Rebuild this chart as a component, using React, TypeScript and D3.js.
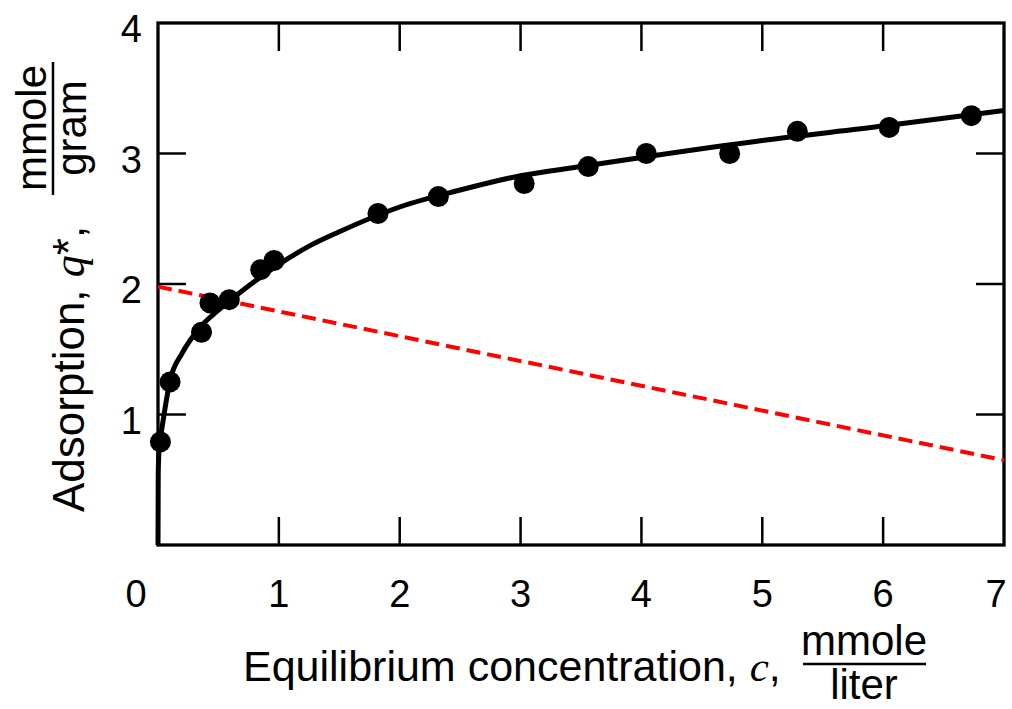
import React from 'react';
import * as d3 from 'd3';

// measured data points (c in mmole/liter, q* in mmole/gram)
const pointC = [0.02, 0.1, 0.36, 0.43, 0.59, 0.85, 0.96, 1.82, 2.32, 3.03, 3.56, 4.04, 4.73, 5.29, 6.05, 6.73];
const pointQ = [0.79, 1.25, 1.63, 1.855, 1.88, 2.11, 2.18, 2.54, 2.67, 2.77, 2.9, 3.0, 3.0, 3.17, 3.2, 3.29];

// isotherm curve
const curveC = [0, 0.002, 0.01, 0.03, 0.05, 0.1, 0.2, 0.35, 0.5, 0.7, 1, 1.25, 1.5, 2, 2.5, 3, 3.5, 4, 5, 6, 7];
const curveQ = [0, 0.55, 0.75, 0.88, 1.0, 1.26, 1.47, 1.67, 1.8, 1.95, 2.15, 2.29, 2.4, 2.59, 2.72, 2.83, 2.9, 2.97, 3.1, 3.21, 3.33];

// red dashed line
const lineC = [0, 7];
const lineQ = [1.98, 0.65];

const xTicks = [0, 1, 2, 3, 4, 5, 6, 7];
const yTicks = [1, 2, 3, 4];

const W = 1012;
const H = 709;
const font = '"Liberation Sans", Arial, sans-serif';
const serif = '"Liberation Serif", "Times New Roman", serif';

export default function App() {
  const x = d3.scaleLinear().domain([0, 7]).range([158, 1004]);
  const y = d3.scaleLinear().domain([0, 4]).range([545, 23]);
  const [x0, x1] = x.range();
  const [y0, y1] = y.range();
  const tick = 28;

  const line = d3.line<[number, number]>()
    .x(d => x(d[0]))
    .y(d => y(d[1]));
  const curvePath = line.curve(d3.curveMonotoneX)(curveC.map((c, i) => [c, curveQ[i]]));
  const redPath = d3.line<[number, number]>().x(d => x(d[0])).y(d => y(d[1]))(lineC.map((c, i) => [c, lineQ[i]]));

  const innerX = xTicks.filter(t => t > 0 && t < 7);
  const innerY = yTicks.filter(t => t < 4);

  return (
    <svg width={W} height={H} style={{ position: 'absolute', left: 0, top: 0, background: '#fff' }}>
      {/* ticks, inward on all four sides */}
      <g stroke="#000" strokeWidth={2.5}>
        {innerX.map(t => (
          <g key={'xt' + t}>
            <line x1={x(t)} x2={x(t)} y1={y0} y2={y0 - tick} />
            <line x1={x(t)} x2={x(t)} y1={y1} y2={y1 + tick} />
          </g>
        ))}
        {innerY.map(t => (
          <g key={'yt' + t}>
            <line x1={x0} x2={x0 + tick} y1={y(t)} y2={y(t)} />
            <line x1={x1} x2={x1 - tick} y1={y(t)} y2={y(t)} />
          </g>
        ))}
      </g>
      <rect x={x0} y={y1} width={x1 - x0} height={y0 - y1} fill="none" stroke="#000" strokeWidth={3.3} />

      {/* red dashed line */}
      <path d={redPath || ''} fill="none" stroke="#ff0000" strokeWidth={4} strokeDasharray="14 7" />

      {/* isotherm */}
      <path d={curvePath || ''} fill="none" stroke="#000" strokeWidth={5} />
      {pointC.map((c, i) => (
        <circle key={i} cx={x(c)} cy={y(pointQ[i])} r={10.5} fill="#000" />
      ))}

      {/* tick labels */}
      <g fontFamily={font} fontSize={38} fill="#000">
        {xTicks.map(t => (
          <text key={'xl' + t} x={x(t) + (t === 0 ? -22 : t === 7 ? -8 : 0)} y={607} textAnchor="middle">{t}</text>
        ))}
        {yTicks.map(t => (
          <text key={'yl' + t} x={142} y={y(t) + 19} textAnchor="end">{t}</text>
        ))}
      </g>

      {/* x axis title */}
      <g fontFamily={font} fill="#000">
        <text x={243} y={681} fontSize={43}>
          Equilibrium concentration, <tspan fontFamily={serif} fontStyle="italic">c</tspan>,
        </text>
        <text x={864} y={655} textAnchor="middle" fontSize={42}>mmole</text>
        <line x1={803} x2={926} y1={664} y2={664} stroke="#000" strokeWidth={2.5} />
        <text x={864} y={699} textAnchor="middle" fontSize={42}>liter</text>
      </g>

      {/* y axis title */}
      <g fontFamily={font} fill="#000">
        <text transform="translate(84,512) rotate(-90)" fontSize={44}>
          Adsorption, <tspan fontFamily={serif} fontStyle="italic">q</tspan>*,
        </text>
        <text transform="translate(46,128) rotate(-90)" textAnchor="middle" fontSize={42}>mmole</text>
        <line x1={53} x2={53} y1={62} y2={195} stroke="#000" strokeWidth={2.5} />
        <text transform="translate(86,128) rotate(-90)" textAnchor="middle" fontSize={42}>gram</text>
      </g>
    </svg>
  );
}
